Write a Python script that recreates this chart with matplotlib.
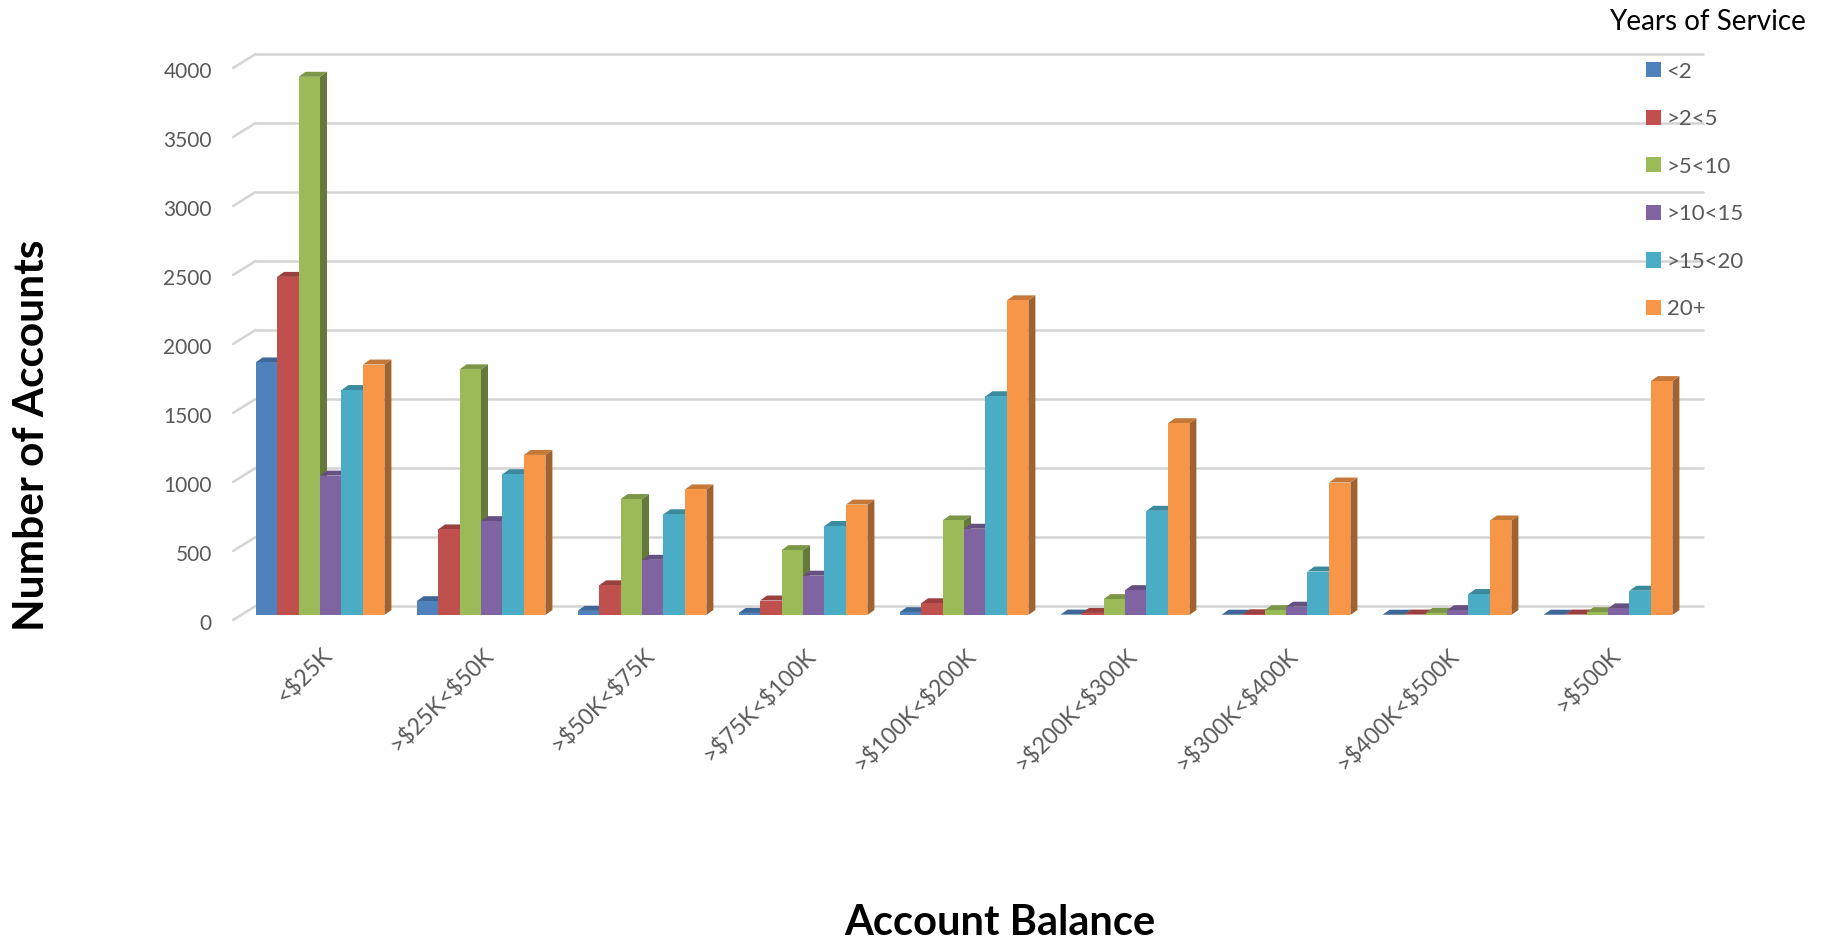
import numpy as np
import matplotlib
matplotlib.use('Agg')
import matplotlib.pyplot as plt
from matplotlib.collections import PolyCollection
from matplotlib.transforms import ScaledTranslation

plt.rcParams['font.family'] = ['Lato', 'DejaVu Sans']
plt.rcParams['text.parse_math'] = False  # 标签里有 $ 符号

# 数据
categories = ['<$25K', '>$25K<$50K', '>$50K<$75K', '>$75K<$100K', '>$100K<$200K',
              '>$200K<$300K', '>$300K<$400K', '>$400K<$500K', '>$500K']
series_names = ['<2', '>2<5', '>5<10', '>10<15', '>15<20', '20+']
lt2 = [1830, 100, 30, 15, 20, 3, 2, 2, 2]
y2_5 = [2450, 620, 215, 105, 85, 15, 5, 3, 3]
y5_10 = [3900, 1780, 840, 470, 685, 115, 35, 15, 20]
y10_15 = [1010, 680, 400, 285, 625, 180, 60, 35, 48]
y15_20 = [1630, 1020, 730, 645, 1585, 755, 315, 152, 176]
y20p = [1815, 1160, 910, 800, 2280, 1390, 960, 685, 1695]
yticks = [0, 500, 1000, 1500, 2000, 2500, 3000, 3500, 4000]

colors = ['#4F81BD', '#C0504D', '#9BBB59', '#8064A2', '#4BACC6', '#F79646']
all_series = [lt2, y2_5, y5_10, y10_15, y15_20, y20p]

W, H = 1833, 942
fig = plt.figure(figsize=(W / 100, H / 100), dpi=100)

# 坐标轴位置: x=0 在 320px, 每组 161px; y=0 在 615px, 每 1000 约 138px
xmin, xmax = -0.62, 8.98
ymin, ymax = -300, 4300
px_x = 161.0
px_y = 0.138
left = (320 + px_x * xmin) / W
width = px_x * (xmax - xmin) / W
bottom = (H - (615 + px_y * (0 - ymin))) / H
height = px_y * (ymax - ymin) / H
ax = fig.add_axes([left, bottom, width, height])
ax.set_xlim(xmin, xmax)
ax.set_ylim(ymin, ymax)

# 3D 效果的偏移量（像素 -> 数据）
dx = 7 / px_x
dy = 5 / px_y
wall_dy = 9 / px_y
n = len(all_series)
bw = 0.8 / n
x = np.arange(len(categories))

# 背景网格线和左侧斜线
grid_c = '#D4D4D4'
for v in yticks:
    ax.plot([-0.40, 8.59], [v + wall_dy, v + wall_dy], color=grid_c, lw=1.8,
            zorder=1, clip_on=False, solid_capstyle='round')
    ax.plot([-0.54, -0.40], [v - 5 / px_y, v + wall_dy], color=grid_c, lw=1.8,
            zorder=1, clip_on=False, solid_capstyle='round')


def shade(c, f):
    rgb = np.array(matplotlib.colors.to_rgb(c))
    return tuple(rgb * f)


bars = []
for s, vals in enumerate(all_series):
    vals = np.array(vals, dtype=float)
    xs = x - 0.4 + bw * s
    sides, tops = [], []
    for x0, h in zip(xs, vals):
        x1 = x0 + bw
        sides.append([(x1, 0), (x1, h), (x1 + dx, h + dy), (x1 + dx, dy)])
        tops.append([(x0, h), (x1, h), (x1 + dx, h + dy), (x0 + dx, h + dy)])
    ax.add_collection(PolyCollection(sides, facecolors=shade(colors[s], 0.65),
                                     edgecolors='none', zorder=2 + 3 * s))
    ax.add_collection(PolyCollection(tops, facecolors=shade(colors[s], 0.8),
                                     edgecolors='none', zorder=3 + 3 * s))
    b = ax.bar(xs, vals, bw, align='edge', color=colors[s], label=series_names[s],
               zorder=4 + 3 * s, linewidth=0)
    bars.append(b)

for sp in ax.spines.values():
    sp.set_visible(False)

ax.set_yticks(yticks)
ax.set_yticklabels([str(v) for v in yticks])
ax.tick_params(axis='y', length=0, pad=6, labelsize=15, labelcolor='#595959')
down = ScaledTranslation(0, -7 / 100, fig.dpi_scale_trans)
for lab in ax.get_yticklabels():
    lab.set_transform(lab.get_transform() + down)

ax.set_xticks(x)
ax.set_xticklabels(categories, rotation=45, ha='right', va='center',
                   rotation_mode='anchor')
ax.tick_params(axis='x', length=0, pad=-3, labelsize=16.5, labelcolor='#595959')
shift = ScaledTranslation(9 / 100, 0, fig.dpi_scale_trans)
for lab in ax.get_xticklabels():
    lab.set_transform(lab.get_transform() + shift)

fig.text(32 / W, 1 - 435 / H, 'Number of Accounts', rotation=90, ha='center',
         va='center', fontsize=30.5, fontweight='bold')
fig.text(1000 / W, 1 - 923 / H, 'Account Balance', ha='center', va='center',
         fontsize=30, fontweight='bold')

fig.text(1806 / W, 1 - 22 / H, 'Years of Service', ha='right', va='center',
         fontsize=20)
leg = fig.legend(handles=bars, labels=series_names, loc='upper left',
                 bbox_to_anchor=(1646 / W, 1 - 61.5 / H), frameon=False,
                 fontsize=16, handlelength=0.68, handleheight=0.68,
                 handletextpad=0.25, labelspacing=1.24, borderpad=0,
                 borderaxespad=0)
for t in leg.get_texts():
    t.set_color('#595959')

fig.savefig('out.png', dpi=100)
